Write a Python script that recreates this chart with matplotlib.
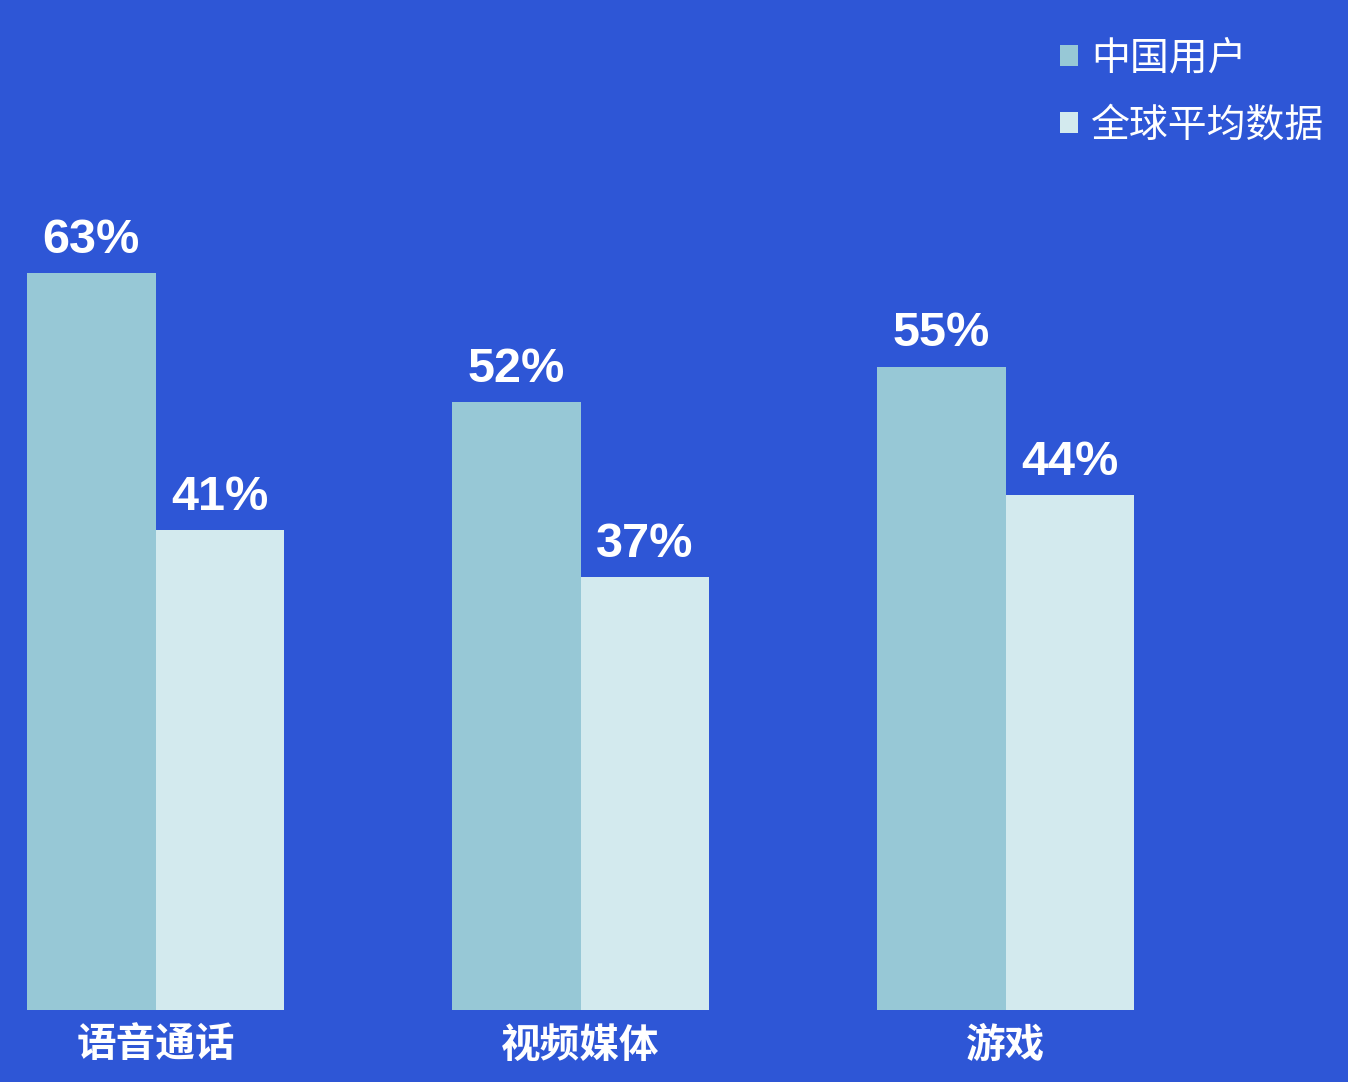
import numpy as np
import matplotlib.pyplot as plt

# Data
categories = ['语音通话', '视频媒体', '游戏']
china_users = [63, 52, 55]
global_avg = [41, 37, 44]
series_names = ['中国用户', '全球平均数据']

bg_color = '#2E56D6'
color_china = '#97C8D6'
color_global = '#D3EAEE'

W, H, DPI = 1348, 1082, 100
fig = plt.figure(figsize=(W / DPI, H / DPI), dpi=DPI, facecolor=bg_color)

# axes: baseline at y=1010 px, 11.7 px per percent
base_px = 1010
px_per_unit = 11.7
ax = fig.add_axes([0, (H - base_px) / H, 1, base_px / H])
ax.set_facecolor(bg_color)

group_px = 425.0
first_center_px = 155.5
w = 128.5 / group_px
ax.set_xlim(-first_center_px / group_px, (W - first_center_px) / group_px)
ax.set_ylim(0, base_px / px_per_unit)

idx = np.arange(len(categories))
b1 = ax.bar(idx - w, china_users, width=w, align='edge', color=color_china, label=series_names[0])
b2 = ax.bar(idx, global_avg, width=w, align='edge', color=color_global, label=series_names[1])

num_font = ['Liberation Sans', 'Noto Sans CJK SC']
cjk_font = ['Noto Sans CJK SC', 'DejaVu Sans']

gap = 20 / px_per_unit
for i in idx:
    ax.text(i - w / 2, china_users[i] + gap, f'{china_users[i]}%', ha='center', va='baseline',
            fontsize=35, fontweight='bold', color='white', family=num_font)
    ax.text(i + w / 2, global_avg[i] + gap, f'{global_avg[i]}%', ha='center', va='baseline',
            fontsize=35, fontweight='bold', color='white', family=num_font)
    ax.text(i, -35 / px_per_unit, categories[i], ha='center', va='center', fontsize=28.5,
            fontweight='bold', color='white', family=cjk_font, clip_on=False)

for s in ax.spines.values():
    s.set_visible(False)
ax.set_xticks([])
ax.set_yticks([])

leg = ax.legend(handles=[b1, b2], loc='upper left',
                bbox_to_anchor=(1060 / W, 1 - 38 / H), bbox_transform=fig.transFigure,
                frameon=False, prop={'family': cjk_font, 'size': 28, 'weight': 'medium'},
                handlelength=0.45, handleheight=0.45, handletextpad=0.35,
                labelspacing=0.7, borderpad=0, borderaxespad=0)
for t in leg.get_texts():
    t.set_color('white')

fig.savefig('out.png', dpi=DPI, facecolor=bg_color)
